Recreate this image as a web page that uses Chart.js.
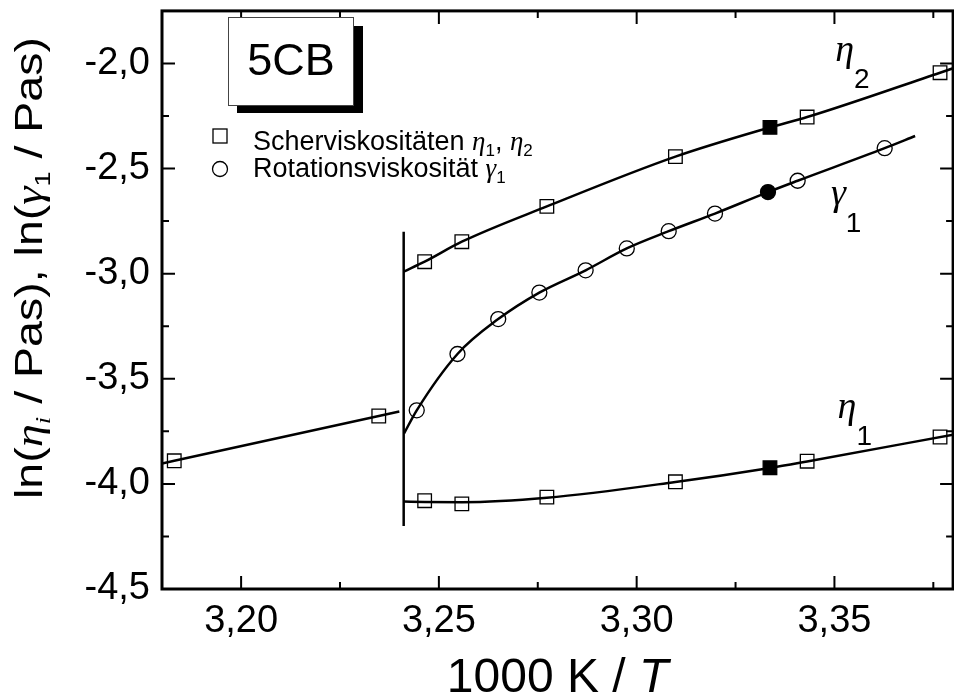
<!DOCTYPE html>
<html>
<head>
<meta charset="utf-8">
<title>5CB Viskositäten</title>
<script src="https://cdn.jsdelivr.net/npm/chart.js@4"></script>
<style>
    html, body { margin: 0; padding: 0; background: #fff; overflow: hidden; }
    #wrap { width: 964px; height: 698px; }
    canvas { display: block; }
</style>
</head>
<body>
<div id="wrap"><canvas id="chart" width="964" height="698"></canvas></div>
<script>
// axis ticks
const xTicks = [3.20, 3.25, 3.30, 3.35];
const xMinor = [3.225, 3.275, 3.325, 3.375];
const yTicks = [-4.5, -4.0, -3.5, -3.0, -2.5, -2.0];
const yMinor = [-4.25, -3.75, -3.25, -2.75, -2.25];

// shear viscosities (same temperatures for eta1 and eta2)
const tShear = [3.2464, 3.2558, 3.2773, 3.3098, 3.3431, 3.3767];
const eta2 = [-2.943, -2.848, -2.680, -2.443, -2.255, -2.044];
const eta1 = [-4.080, -4.095, -4.063, -3.990, -3.892, -3.777];
const tShearFilled = [3.3337];
const eta2Filled = [-2.304];
const eta1Filled = [-3.923];

// isotropic phase
const tIso = [3.1831, 3.2348];
const etaIso = [-3.890, -3.677];

// rotational viscosity
const tRot = [3.2444, 3.2547, 3.2650, 3.2754, 3.2871, 3.2975, 3.3081, 3.3198, 3.3407, 3.3627];
const gamma1 = [-3.650, -3.382, -3.216, -3.090, -2.984, -2.880, -2.798, -2.714, -2.558, -2.403];
const tRotFilled = [3.3332];
const gamma1Filled = [-2.612];

// clearing point line and ends of the fitted curves
const tClearing = [3.2411, 3.2411];
const clearingSpan = [-4.20, -2.80];
const isoFitX = [3.18, 3.2400];
const isoFitY = [-3.903, -3.656];
const eta2FitX = [3.2411, 3.38];
const eta2FitY = [-2.990, -2.023];
const gammaFitX = [3.2412, 3.3704];
const gammaFitY = [-3.760, -2.345];
// eta1 fit
const eta1FitX = [3.2411, 3.2464, 3.2558, 3.2773, 3.3098, 3.3337, 3.3431, 3.38];
const eta1FitY = [-4.084, -4.086, -4.087, -4.066, -3.991, -3.924, -3.893, -3.766];

const SANS = "'Liberation Sans', Arial, sans-serif";
const SERIF = "'Liberation Serif', 'Times New Roman', serif";

// wanted plot frame in canvas pixels (right side is cut off by the window like the original)
const AREA = { left: 162, right: 962, top: 9, bottom: 589 };

function pts(xs, ys) {
    return xs.map((x, i) => ({ x: x, y: ys[i] }));
}
function curve(...lists) {
    return [].concat(...lists).sort((a, b) => a.x - b.x);
}
function comma(v, d) {
    return v.toFixed(d).replace('.', ',');
}

const lineStyle = { borderColor: '#000', borderWidth: 2.5, pointRadius: 0, fill: false };
const markStyle = { showLine: false, borderColor: '#000', pointBorderColor: '#000', pointBorderWidth: 1.3 };

function textWidth(ctx, parts) {
    let w = 0;
    parts.forEach(p => { ctx.font = p.font; w += ctx.measureText(p.t).width; });
    return w;
}

// draws text made of several differently styled runs
function richText(ctx, parts, x, y, align) {
    const w = textWidth(ctx, parts);
    let cx = align === 'center' ? x - w / 2 : x;
    parts.forEach(p => {
        ctx.font = p.font;
        ctx.fillText(p.t, cx, y + (p.dy || 0));
        cx += ctx.measureText(p.t).width;
    });
}

const decorations = {
    id: 'decorations',
    afterDraw(chart) {
        const ctx = chart.ctx;
        const xs = chart.scales.x, ys = chart.scales.y;
        const a = chart.chartArea;
        ctx.save();
        ctx.fillStyle = '#000';
        ctx.strokeStyle = '#000';

        // frame with inward ticks
        ctx.lineWidth = 3;
        ctx.strokeRect(a.left, a.top, a.right - a.left, a.bottom - a.top);
        ctx.lineWidth = 2;
        ctx.beginPath();
        const xt = (v, len) => {
            const p = xs.getPixelForValue(v);
            ctx.moveTo(p, a.bottom); ctx.lineTo(p, a.bottom - len);
            ctx.moveTo(p, a.top); ctx.lineTo(p, a.top + len);
        };
        const yt = (v, len) => {
            const p = ys.getPixelForValue(v);
            ctx.moveTo(a.left, p); ctx.lineTo(a.left + len, p);
            ctx.moveTo(a.right, p); ctx.lineTo(a.right - len, p);
        };
        xTicks.forEach(v => xt(v, 13));
        xMinor.forEach(v => xt(v, 7));
        yTicks.forEach(v => yt(v, 13));
        yMinor.forEach(v => yt(v, 7));
        ctx.stroke();

        // 5CB box with shadow
        ctx.fillRect(237, 26, 126, 87);
        ctx.fillStyle = '#fff';
        ctx.fillRect(228, 17, 125, 88);
        ctx.lineWidth = 1;
        ctx.strokeStyle = '#444';
        ctx.strokeRect(228.5, 17.5, 125, 88);
        ctx.fillStyle = '#000';
        ctx.textBaseline = 'alphabetic';
        ctx.textAlign = 'left';
        richText(ctx, [{ t: '5CB', font: '45px ' + SANS }], 291, 75, 'center');

        // legend
        ctx.strokeStyle = '#000';
        ctx.lineWidth = 1.3;
        ctx.fillStyle = '#fff';
        ctx.fillRect(213, 129, 14, 14);
        ctx.strokeRect(213, 129, 14, 14);
        ctx.beginPath();
        ctx.arc(220, 169, 7.5, 0, Math.PI * 2);
        ctx.fill();
        ctx.stroke();
        ctx.fillStyle = '#000';
        richText(ctx, [
            { t: 'Scherviskositäten ', font: '27px ' + SANS },
            { t: 'η', font: 'italic 27px ' + SERIF },
            { t: '1', font: '17px ' + SANS, dy: 6 },
            { t: ', ', font: '27px ' + SANS },
            { t: 'η', font: 'italic 27px ' + SERIF },
            { t: '2', font: '17px ' + SANS, dy: 6 }
        ], 253, 150, 'left');
        richText(ctx, [
            { t: 'Rotationsviskosität ', font: '27px ' + SANS },
            { t: 'γ', font: 'italic 27px ' + SERIF },
            { t: '1', font: '17px ' + SANS, dy: 6 }
        ], 253, 177, 'left');

        // curve labels
        const curveLabel = (sym, sub, x, y) => {
            richText(ctx, [
                { t: sym, font: 'italic 38px ' + SERIF },
                { t: sub, font: '28px ' + SANS, dy: 27 }
            ], xs.getPixelForValue(x), ys.getPixelForValue(y), 'left');
        };
        curveLabel('η', '2', 3.3502, -1.988);
        curveLabel('γ', '1', 3.3491, -2.675);
        curveLabel('η', '1', 3.3508, -3.688);

        // x axis title
        richText(ctx, [
            { t: '1000 K / ', font: '48px ' + SANS },
            { t: 'T', font: 'italic 48px ' + SANS }
        ], (a.left + a.right) / 2, 692, 'center');

        // y axis title, stretched along its length like the original
        const yTitle = [
            { t: 'ln(', font: '38px ' + SANS },
            { t: 'η', font: 'italic 38px ' + SERIF },
            { t: 'i', font: 'italic 22px ' + SERIF, dy: 8 },
            { t: ' / Pas), ln(', font: '38px ' + SANS },
            { t: 'γ', font: 'italic 38px ' + SERIF },
            { t: '1', font: '22px ' + SANS, dy: 8 },
            { t: ' / Pas)', font: '38px ' + SANS }
        ];
        const stretch = 462 / textWidth(ctx, yTitle);
        ctx.translate(42, 268);
        ctx.rotate(-Math.PI / 2);
        ctx.scale(stretch, 1);
        richText(ctx, yTitle, 0, 0, 'center');
        ctx.restore();
    }
};

Chart.defaults.font.family = SANS;
Chart.defaults.color = '#000';

const noPad = s => { s.paddingTop = 0; s.paddingBottom = 0; s.paddingLeft = 0; s.paddingRight = 0; };

const chart = new Chart(document.getElementById('chart'), {
    type: 'line',
    data: {
        datasets: [
            { ...lineStyle, data: pts(tClearing, clearingSpan), tension: 0 },
            { ...lineStyle, data: curve(pts(tIso, etaIso), pts(isoFitX, isoFitY)), tension: 0 },
            { ...lineStyle, data: curve(pts(tShear, eta2), pts(tShearFilled, eta2Filled), pts(eta2FitX, eta2FitY)), cubicInterpolationMode: 'monotone' },
            { ...lineStyle, data: pts(eta1FitX, eta1FitY), cubicInterpolationMode: 'monotone' },
            { ...lineStyle, data: curve(pts(tRot, gamma1), pts(tRotFilled, gamma1Filled), pts(gammaFitX, gammaFitY)), cubicInterpolationMode: 'monotone' },
            { ...markStyle, data: curve(pts(tShear, eta2), pts(tShear, eta1), pts(tIso, etaIso)), pointStyle: 'rect', pointRadius: 9.6, pointBackgroundColor: '#fff' },
            { ...markStyle, data: curve(pts(tShearFilled, eta2Filled), pts(tShearFilled, eta1Filled)), pointStyle: 'rect', pointRadius: 9.6, pointBackgroundColor: '#000' },
            { ...markStyle, data: pts(tRot, gamma1), pointStyle: 'circle', pointRadius: 7.5, pointBackgroundColor: '#fff' },
            { ...markStyle, data: pts(tRotFilled, gamma1Filled), pointStyle: 'circle', pointRadius: 7.5, pointBackgroundColor: '#000' }
        ]
    },
    options: {
        responsive: false,
        maintainAspectRatio: false,
        animation: false,
        devicePixelRatio: 1,
        events: [],
        layout: { padding: { left: 0, right: 2, top: 9, bottom: 0 } },
        plugins: { legend: { display: false }, tooltip: { enabled: false } },
        scales: {
            x: {
                type: 'linear',
                min: 3.18,
                max: 3.38,
                grid: { display: false, drawTicks: false },
                border: { display: false },
                afterBuildTicks: s => { s.ticks = xTicks.map(v => ({ value: v })); },
                afterFit: s => { s.height = 109; noPad(s); },
                ticks: {
                    font: { size: 38 },
                    padding: 10,
                    maxRotation: 0,
                    callback: v => comma(v, 2)
                }
            },
            y: {
                type: 'linear',
                min: -4.5,
                max: -1.75,
                grid: { display: false, drawTicks: false },
                border: { display: false },
                afterBuildTicks: s => { s.ticks = yTicks.map(v => ({ value: v })); },
                afterFit: s => { s.width = 162; noPad(s); },
                ticks: {
                    font: { size: 38 },
                    padding: 12,
                    callback: v => comma(v, 1)
                }
            }
        }
    },
    plugins: [decorations]
});

// nudge the layout padding until the plot frame sits where the original has it
for (let i = 0; i < 3; i++) {
    const a = chart.chartArea;
    const pad = chart.options.layout.padding;
    const dr = a.right - AREA.right, db = a.bottom - AREA.bottom;
    const dl = AREA.left - a.left, dt = AREA.top - a.top;
    if (Math.abs(dr) < 0.5 && Math.abs(db) < 0.5 && Math.abs(dl) < 0.5 && Math.abs(dt) < 0.5) break;
    pad.right += dr; pad.bottom += db; pad.left += dl; pad.top += dt;
    chart.update();
}
</script>
</body>
</html>
